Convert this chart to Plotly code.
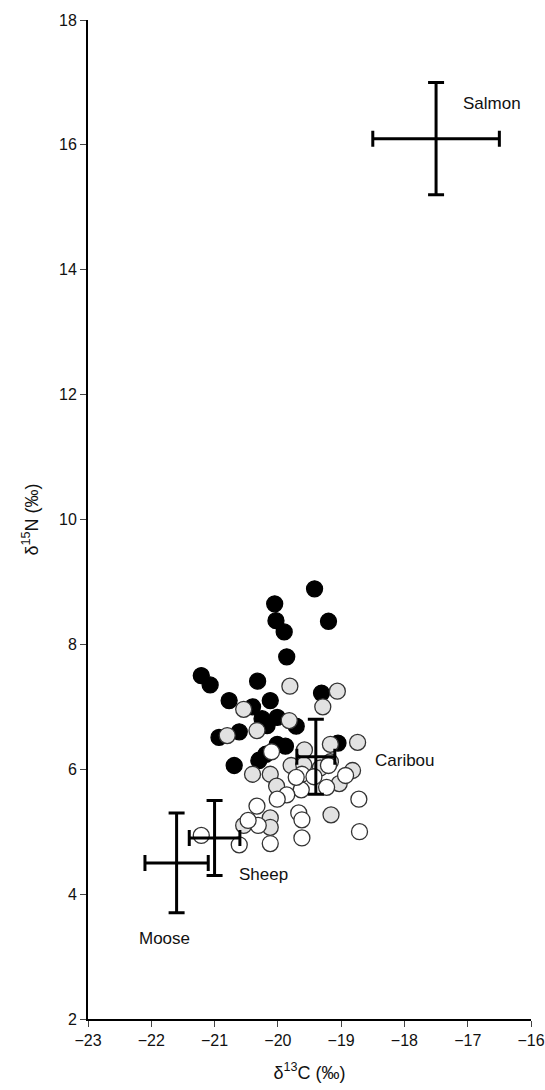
import plotly.graph_objects as go

# ---- data ----
black_x = [-19.42, -20.05, -20.03, -19.20, -19.90, -19.86, -21.21, -21.07, -20.32, -19.31,
           -20.77, -20.40, -20.12, -20.25, -20.01, -19.71, -20.93, -20.61, -20.17, -20.01,
           -19.88, -20.30, -20.19, -20.69, -19.05]
black_y = [8.89, 8.65, 8.38, 8.37, 8.20, 7.80, 7.50, 7.35, 7.41, 7.22,
           7.10, 7.00, 7.10, 6.81, 6.83, 6.69, 6.51, 6.60, 6.70, 6.40,
           6.37, 6.14, 6.24, 6.06, 6.42]

gray_x = [-19.81, -19.06, -19.29, -20.54, -19.82, -20.80, -20.33, -19.58, -19.17, -18.74,
          -20.40, -20.12, -19.79, -19.17, -18.82, -19.03, -20.02, -19.59, -19.33, -20.54,
          -20.12, -20.12, -19.16]
gray_y = [7.33, 7.25, 7.00, 6.96, 6.78, 6.54, 6.62, 6.31, 6.40, 6.43,
          5.92, 5.92, 6.06, 6.12, 5.98, 5.77, 5.73, 6.07, 6.02, 5.10,
          5.22, 5.07, 5.27]

white_x = [-20.10, -19.62, -19.43, -19.20, -18.93, -19.23, -19.63, -19.86, -20.01, -20.33,
           -18.72, -19.67, -19.62, -19.62, -18.71, -20.31, -20.12, -20.61, -20.47, -21.21,
           -19.71]
white_y = [6.28, 5.92, 5.88, 6.06, 5.90, 5.71, 5.67, 5.59, 5.52, 5.41,
           5.52, 5.30, 5.19, 4.90, 5.00, 5.10, 4.81, 4.79, 5.18, 4.94,
           5.87]

species = ["Salmon", "Caribou", "Sheep", "Moose"]
sp_x = [-17.5, -19.4, -21.0, -21.6]
sp_y = [16.1, 6.2, 4.9, 4.5]
sp_xerr = [1.0, 0.3, 0.4, 0.5]
sp_yerr = [0.9, 0.6, 0.6, 0.8]
label_x = [-17.10, -18.49, -20.65, -22.23]
label_y = [16.67, 6.14, 4.31, 3.29]

x_ticks = [-23, -22, -21, -20, -19, -18, -17, -16]
y_ticks = [2, 4, 6, 8, 10, 12, 14, 16, 18]

outline = "#333333"
fig = go.Figure()
fig.add_trace(go.Scatter(x=black_x, y=black_y, mode="markers",
                         marker=dict(size=16, color="black", line=dict(color="black", width=1.3))))
fig.add_trace(go.Scatter(x=gray_x, y=gray_y, mode="markers",
                         marker=dict(size=16, color="#e2e2e2", line=dict(color=outline, width=1.3))))
fig.add_trace(go.Scatter(x=white_x, y=white_y, mode="markers",
                         marker=dict(size=16, color="white", line=dict(color=outline, width=1.3))))
fig.add_trace(go.Scatter(x=sp_x, y=sp_y, mode="markers",
                         marker=dict(size=1, color="rgba(0,0,0,0)"),
                         error_x=dict(type="data", array=sp_xerr, visible=True,
                                      color="black", thickness=3, width=8),
                         error_y=dict(type="data", array=sp_yerr, visible=True,
                                      color="black", thickness=3, width=8)))

for name, lx, ly in zip(species, label_x, label_y):
    fig.add_annotation(x=lx, y=ly, text=name, showarrow=False, xanchor="left",
                       yanchor="middle", font=dict(size=17, color="#111"))

font_family = "Liberation Sans, Arial, sans-serif"
fig.update_layout(
    width=545, height=1090,
    margin=dict(l=88, r=14, t=20, b=71),
    plot_bgcolor="white", paper_bgcolor="white",
    showlegend=False,
    font=dict(family=font_family, size=16, color="#111"),
    xaxis=dict(range=[-23, -16], tickvals=x_ticks, ticks="outside", ticklen=6,
               tickwidth=1, showline=True, linewidth=2, linecolor="black",
               showgrid=False, zeroline=False, automargin=False,
               tickfont=dict(size=16), ticklabeloverflow="allow",
               title=dict(text="δ<sup>13</sup>C (‰)", font=dict(size=18), standoff=18)),
    yaxis=dict(range=[2, 18], tickvals=y_ticks, ticks="outside", ticklen=6,
               tickwidth=1, showline=True, linewidth=2, linecolor="black",
               showgrid=False, zeroline=False, automargin=False,
               tickfont=dict(size=16), ticklabeloverflow="allow",
               title=dict(text="δ<sup>15</sup>N (‰)", font=dict(size=18), standoff=16)),
)

fig.write_html("out.html", config={"displayModeBar": False},
               post_script="document.body.style.margin='0';document.body.style.overflow='hidden';")
